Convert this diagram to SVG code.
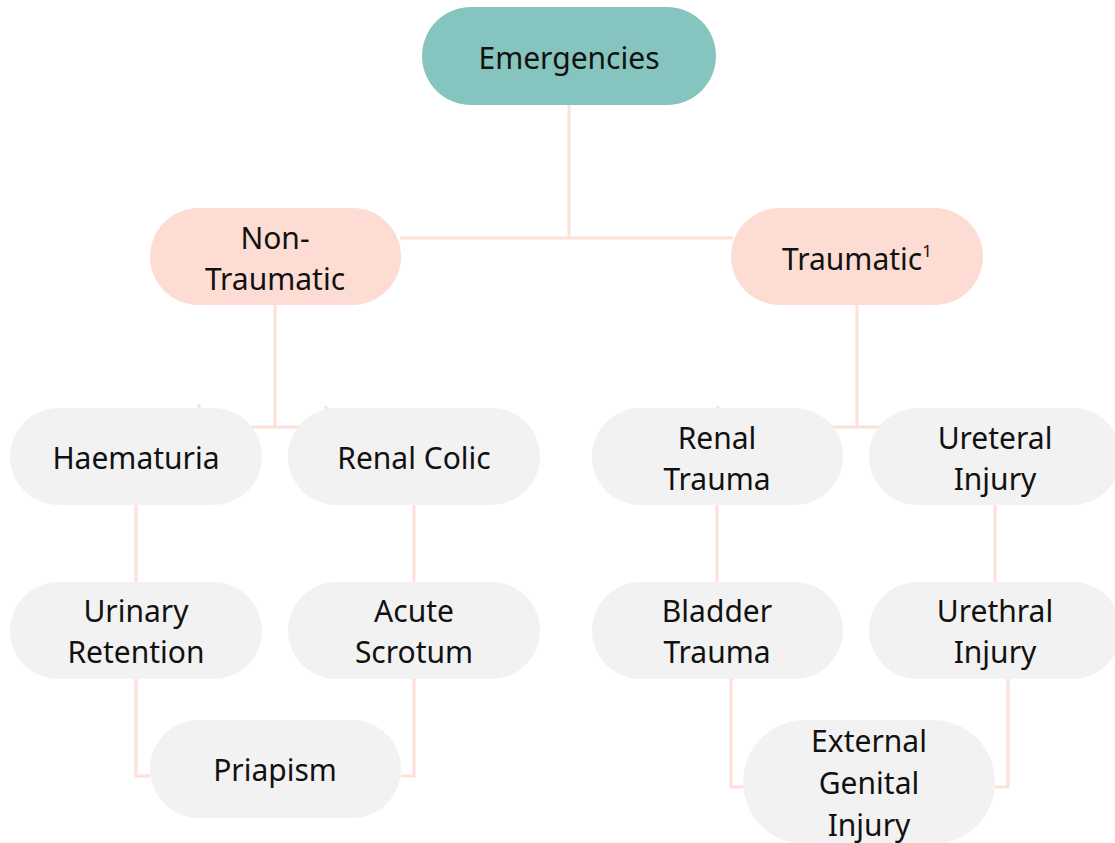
<svg xmlns="http://www.w3.org/2000/svg" width="1115" height="843" viewBox="0 0 1115 843">
<style>
.t{font-family:"Noto Sans","Open Sans",sans-serif;font-size:30px;fill:#111;text-anchor:middle}
.root{fill:#86c5bf}
.cat{fill:#fddcd3}
.leaf{fill:#f2f2f2}
.c{fill:none;stroke:#fde0d8;stroke-width:3}
</style>
<rect width="1115" height="843" fill="#fff"/>
<g id="connectors">
<path class="c" d="M569,105 V238 M400,238 H733"/>
<path class="c" d="M275,305 V427 M199,404 V427 H326 V406"/>
<path class="c" d="M857,305 V427 M718,406 V427 H880"/>
<path class="c" d="M136,505 V582 M414,505 V582 M717,505 V582 M995,505 V582"/>
<path class="c" d="M136,679 V776 H150 M414,679 V776 H401"/>
<path class="c" d="M731,679 V787 H743 M1008,679 V787 H995"/>
</g>
<g id="emergencies"><rect class="root" x="422" y="7" width="294" height="98" rx="49"/><text class="t" x="569" y="69">Emergencies</text></g>
<g id="non-traumatic"><rect class="cat" x="150" y="208" width="251" height="97" rx="48.5"/><text class="t" x="275" y="249">Non-</text><text class="t" x="275" y="290">Traumatic</text></g>
<g id="traumatic"><rect class="cat" x="731" y="208" width="252" height="97" rx="48.5"/><text class="t" x="857" y="270">Traumatic<tspan font-size="17" dy="-13">1</tspan></text></g>
<g id="haematuria"><rect class="leaf" x="10" y="408" width="252" height="97" rx="48.5"/><text class="t" x="136" y="469">Haematuria</text></g>
<g id="renal-colic"><rect class="leaf" x="288" y="408" width="252" height="97" rx="48.5"/><text class="t" x="414" y="469">Renal Colic</text></g>
<g id="renal-trauma"><rect class="leaf" x="592" y="408" width="251" height="97" rx="48.5"/><text class="t" x="717" y="449">Renal</text><text class="t" x="717" y="490">Trauma</text></g>
<g id="ureteral-injury"><rect class="leaf" x="869" y="408" width="252" height="97" rx="48.5"/><text class="t" x="995" y="449">Ureteral</text><text class="t" x="995" y="490">Injury</text></g>
<g id="urinary-retention"><rect class="leaf" x="10" y="582" width="252" height="97" rx="48.5"/><text class="t" x="136" y="622">Urinary</text><text class="t" x="136" y="663">Retention</text></g>
<g id="acute-scrotum"><rect class="leaf" x="288" y="582" width="252" height="97" rx="48.5"/><text class="t" x="414" y="622">Acute</text><text class="t" x="414" y="663">Scrotum</text></g>
<g id="bladder-trauma"><rect class="leaf" x="592" y="582" width="251" height="97" rx="48.5"/><text class="t" x="717" y="622">Bladder</text><text class="t" x="717" y="663">Trauma</text></g>
<g id="urethral-injury"><rect class="leaf" x="869" y="582" width="252" height="97" rx="48.5"/><text class="t" x="995" y="622">Urethral</text><text class="t" x="995" y="663">Injury</text></g>
<g id="priapism"><rect class="leaf" x="150" y="720" width="251" height="98" rx="49"/><text class="t" x="275" y="781">Priapism</text></g>
<g id="external-genital-injury"><rect class="leaf" x="743" y="720" width="252" height="124" rx="62"/><text class="t" x="869" y="752">External</text><text class="t" x="869" y="794">Genital</text><text class="t" x="869" y="836">Injury</text></g>
</svg>
